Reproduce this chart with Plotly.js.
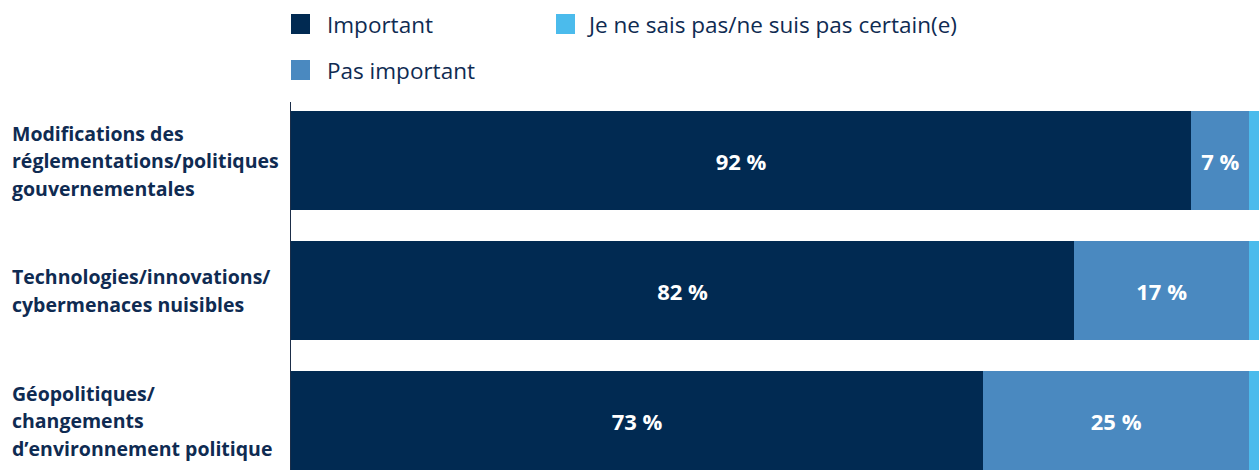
<!DOCTYPE html>
<html>
<head>
<meta charset="utf-8">
<script src="https://cdn.plot.ly/plotly-3.0.1.min.js"></script>
<style>
  html, body { margin: 0; padding: 0; background: #ffffff; }
  #chart { width: 1260px; height: 470px; }
</style>
</head>
<body>
<div id="chart"></div>
<script>
// ---- Data ----
const categories = [
  "Modifications des<br>réglementations/politiques<br>gouvernementales",
  "Technologies/innovations/<br>cybermenaces nuisibles",
  "Géopolitiques/<br>changements<br>d’environnement politique"
];
const seriesNames = ["Important", "Pas important", "Je ne sais pas/ne suis pas certain(e)"];
const important = [93.0, 80.9, 71.5];
const pasImportant = [6.0, 18.1, 27.5];
const neSaisPas = [1.0, 1.0, 1.0];
const importantLabels = ["92 %", "82 %", "73 %"];
const pasImportantLabels = ["7 %", "17 %", "25 %"];
const neSaisPasLabels = ["", "", ""];

// ---- Style ----
const W = 1260, H = 470;
const M = { l: 291, r: 1, t: 102, b: 0 };
const PW = W - M.l - M.r, PH = H - M.t - M.b;
const colors = ["#012a52", "#4a89c0", "#4bbbec"];
const navy = "#0f2b52";
const FONT = "'Open Sans', 'Noto Sans', sans-serif";
const px2x = p => (p - M.l) / PW;
const px2y = p => (H - M.b - p) / PH;

const idx = categories.map((_, i) => i);

function barTrace(vals, labels, name, color) {
  return {
    type: "bar", orientation: "h",
    x: vals, y: idx, name: name,
    text: labels, textposition: "inside", insidetextanchor: "middle",
    constraintext: "none",
    textfont: { family: FONT, size: 22, color: "#ffffff", weight: 700 },
    marker: { color: color, line: { width: 0 } },
    hoverinfo: "skip"
  };
}

const data = [
  barTrace(important, importantLabels, seriesNames[0], colors[0]),
  barTrace(pasImportant, pasImportantLabels, seriesNames[1], colors[1]),
  barTrace(neSaisPas, neSaisPasLabels, seriesNames[2], colors[2])
];

// Category labels (left aligned, multi-line)
const annotations = [];
const lineH = 27.5;
categories.forEach((c, i) => {
  const lines = c.split("<br>");
  const n = lines.length;
  lines.forEach((ln, k) => {
    annotations.push({
      xref: "paper", yref: "y", x: px2x(10), y: i,
      xanchor: "left", yanchor: "middle",
      yshift: ((n - 1) / 2 - k) * lineH,
      text: ln, showarrow: false, align: "left",
      font: { family: FONT, size: 19.5, color: navy, weight: 700 }
    });
  });
});

// Custom legend
const legendItems = [
  { name: seriesNames[0], color: colors[0], sx: 291, sy: 14, tx: 325, ty: 24 },
  { name: seriesNames[1], color: colors[1], sx: 291, sy: 60, tx: 325, ty: 70 },
  { name: seriesNames[2], color: colors[2], sx: 556, sy: 14, tx: 585, ty: 24 }
];
const shapes = [];
legendItems.forEach(it => {
  shapes.push({
    type: "rect", xref: "paper", yref: "paper",
    x0: px2x(it.sx), x1: px2x(it.sx + 19),
    y0: px2y(it.sy + 20), y1: px2y(it.sy),
    fillcolor: it.color, line: { width: 0 }
  });
  annotations.push({
    xref: "paper", yref: "paper", x: px2x(it.tx), y: px2y(it.ty),
    xanchor: "left", yanchor: "middle", showarrow: false,
    text: it.name, font: { family: FONT, size: 22.5, color: navy }
  });
});

const layout = {
  width: W, height: H,
  margin: M,
  paper_bgcolor: "#ffffff", plot_bgcolor: "#ffffff",
  barmode: "stack", bargap: 31 / 130,
  showlegend: false,
  xaxis: { range: [0, 100], visible: false, fixedrange: true },
  yaxis: {
    type: "linear", range: [2 + 49.5 / 130, -58.5 / 130],
    showticklabels: false, showgrid: false, zeroline: false, ticks: "",
    showline: true, linecolor: "#1b2d48", linewidth: 1.5, fixedrange: true
  },
  annotations: annotations,
  shapes: shapes
};

Plotly.newPlot("chart", data, layout, { staticPlot: true, displayModeBar: false });
</script>
</body>
</html>
